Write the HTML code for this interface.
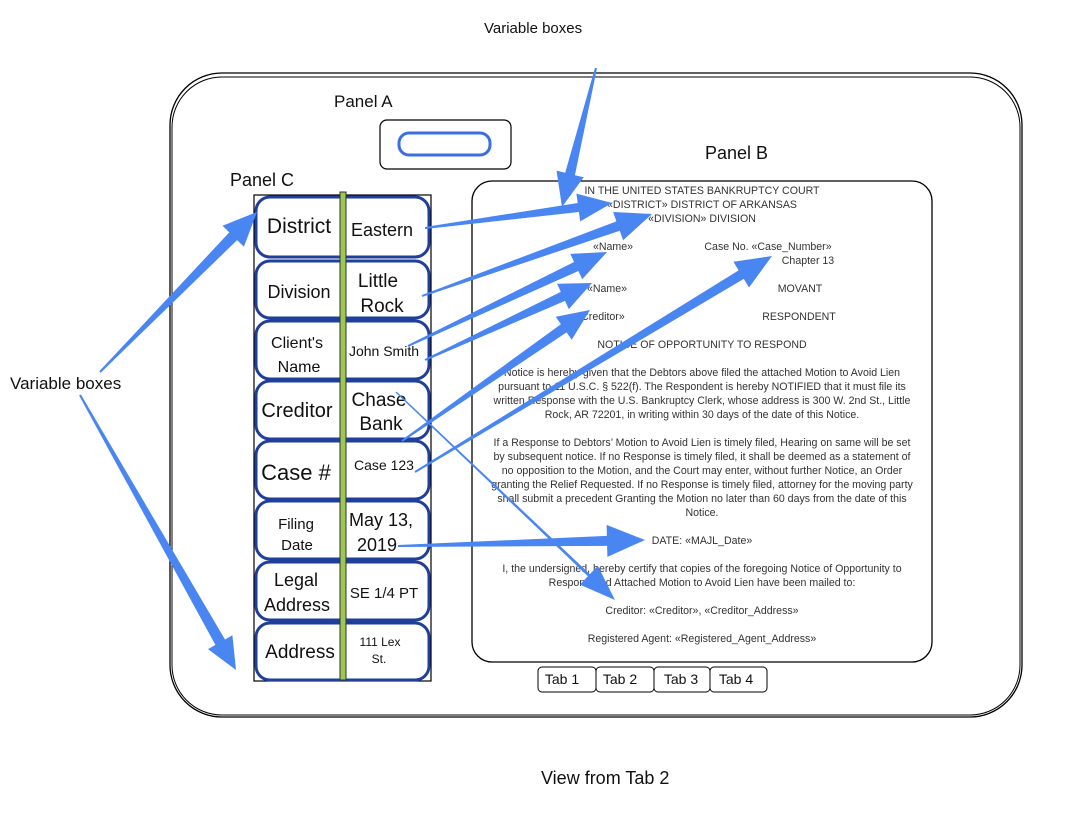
<!DOCTYPE html>
<html><head><meta charset="utf-8"><style>
html,body{margin:0;padding:0;background:#fff;width:1070px;height:832px;overflow:hidden}
svg{display:block;font-family:"Liberation Sans",sans-serif}
.d{font-size:10.6px;fill:#333;text-anchor:middle}
</style></head><body>
<svg id="s" width="1070" height="832" viewBox="0 0 1070 832" xmlns="http://www.w3.org/2000/svg">
<rect x="170" y="73" width="852" height="644" rx="52" fill="none" stroke="#000" stroke-width="1.3"/>
<rect x="172" y="77" width="848" height="638" rx="50" fill="none" stroke="#000" stroke-width="1"/>
<text x="484" y="33" font-size="15" fill="#111">Variable boxes</text>
<text x="334" y="107" font-size="17" fill="#111">Panel A</text>
<rect x="380" y="120" width="131" height="49" rx="7" fill="#fff" stroke="#000" stroke-width="1.2"/>
<rect x="399" y="133" width="91" height="22" rx="10" fill="#fff" stroke="#3b6fe0" stroke-width="3"/>
<text x="705" y="159" font-size="18" fill="#111">Panel B</text>
<text x="230" y="186" font-size="18" fill="#111">Panel C</text>
<text x="10" y="389" font-size="17" fill="#111">Variable boxes</text>
<text x="541" y="784" font-size="18" fill="#111">View from Tab 2</text>
<rect x="472" y="181" width="460" height="481" rx="20" fill="#fff" stroke="#000" stroke-width="1.3"/>
<g class="d">
<text x="702" y="194">IN THE UNITED STATES BANKRUPTCY COURT</text>
<text x="702" y="208">«DISTRICT» DISTRICT OF ARKANSAS</text>
<text x="702" y="222">«DIVISION» DIVISION</text>
<text x="613" y="250">«Name»</text>
<text x="768" y="250">Case No. «Case_Number»</text>
<text x="808" y="264">Chapter 13</text>
<text x="607" y="292">«Name»</text>
<text x="800" y="292">MOVANT</text>
<text x="600" y="320">«Creditor»</text>
<text x="799" y="320">RESPONDENT</text>
<text x="702" y="348">NOTICE OF OPPORTUNITY TO RESPOND</text>
<text x="702" y="376">Notice is hereby given that the Debtors above filed the attached Motion to Avoid Lien</text>
<text x="702" y="390">pursuant to 11 U.S.C. § 522(f). The Respondent is hereby NOTIFIED that it must file its</text>
<text x="702" y="404">written Response with the U.S. Bankruptcy Clerk, whose address is 300 W. 2nd St., Little</text>
<text x="702" y="418">Rock, AR 72201, in writing within 30 days of the date of this Notice.</text>
<text x="702" y="446">If a Response to Debtors’ Motion to Avoid Lien is timely filed, Hearing on same will be set</text>
<text x="702" y="460">by subsequent notice.  If no Response is timely filed, it shall be deemed as a statement of</text>
<text x="702" y="474">no opposition to the Motion, and the Court may enter, without further Notice, an Order</text>
<text x="702" y="488">granting the Relief Requested.  If no Response is timely filed, attorney for the moving party</text>
<text x="702" y="502">shall submit a precedent Granting the Motion no later than 60 days from the date of this</text>
<text x="702" y="516">Notice.</text>
<text x="702" y="544">DATE: «MAJL_Date»</text>
<text x="702" y="572">I, the undersigned, hereby certify that copies of the foregoing Notice of Opportunity to</text>
<text x="702" y="586">Respond and Attached Motion to Avoid Lien have been mailed to:</text>
<text x="702" y="614">Creditor:    «Creditor», «Creditor_Address»</text>
<text x="702" y="642">Registered Agent:    «Registered_Agent_Address»</text>
</g>
<g font-size="14" fill="#111" text-anchor="middle">
<rect x="538" y="667" width="58" height="25" rx="4" fill="#fff" stroke="#000"/><text x="562" y="684">Tab 1</text>
<rect x="596" y="667" width="58" height="25" rx="4" fill="#fff" stroke="#000"/><text x="620" y="684">Tab 2</text>
<rect x="654" y="667" width="56" height="25" rx="4" fill="#fff" stroke="#000"/><text x="681" y="684">Tab 3</text>
<rect x="710" y="667" width="57" height="25" rx="4" fill="#fff" stroke="#000"/><text x="736" y="684">Tab 4</text>
</g>
<rect x="254" y="195" width="177" height="486" fill="#fff" stroke="#000" stroke-width="1.2"/>
<g fill="#fff" stroke="#1f3f9a" stroke-width="3">
<rect x="256" y="197" width="173" height="60" rx="14"/>
<rect x="256" y="261" width="173" height="57" rx="14"/>
<rect x="256" y="321" width="173" height="58" rx="14"/>
<rect x="256" y="381" width="173" height="58" rx="14"/>
<rect x="256" y="441" width="173" height="58" rx="14"/>
<rect x="256" y="501" width="173" height="58" rx="14"/>
<rect x="256" y="562" width="173" height="58" rx="14"/>
<rect x="256" y="623" width="173" height="57" rx="14"/>
</g>
<rect x="340" y="192" width="6" height="488" fill="#9cc84f" stroke="#333" stroke-width="1"/>
<g fill="#111" text-anchor="middle">
<text x="299" y="233" font-size="21">District</text>
<text x="382" y="236" font-size="18">Eastern</text>
<text x="299" y="298" font-size="18">Division</text>
<text x="378" y="287" font-size="19">Little</text>
<text x="382" y="312" font-size="19">Rock</text>
<text x="297" y="348" font-size="16">Client's</text>
<text x="299" y="372" font-size="16">Name</text>
<text x="384" y="356" font-size="14">John Smith</text>
<text x="297" y="417" font-size="20">Creditor</text>
<text x="379" y="406" font-size="19">Chase</text>
<text x="381" y="430" font-size="19">Bank</text>
<text x="296" y="480" font-size="22">Case #</text>
<text x="384" y="470" font-size="14">Case 123</text>
<text x="296" y="529" font-size="15">Filing</text>
<text x="297" y="550" font-size="15">Date</text>
<text x="381" y="526" font-size="18">May 13,</text>
<text x="377" y="551" font-size="18">2019</text>
<text x="296" y="586" font-size="18">Legal</text>
<text x="297" y="611" font-size="18">Address</text>
<text x="384" y="598" font-size="15">SE 1/4 PT</text>
<text x="300" y="658" font-size="19">Address</text>
<text x="380" y="646" font-size="12">111 Lex</text>
<text x="379" y="663" font-size="12">St.</text>
</g>
<g id="arr" fill="#4a86f2"></g>
</svg>
<script>
var A=[[425,228,612,203,2,9,34,28],[422,296,652,214,2,10,36,30],[408,346,607,252,2,10,34,28],[425,360,592,283,2,10,32,28],[402,441,590,310,2,10,32,28],[415,472,772,256,2,10,36,30],[398,546,645,540,2,10,38,32],[396,392,615,600,1.5,3,36,26],[596,68,562,207,2,10,34,28],[100,372,257,212,2,11,34,30],[80,395,236,670,2,11,32,28]];
var g=document.getElementById('arr'),s='';
A.forEach(function(a){var x0=a[0],y0=a[1],x1=a[2],y1=a[3],w0=a[4]/2,w1=a[5]/2,L=a[6],H=a[7]/2;
var dx=x1-x0,dy=y1-y0,d=Math.hypot(dx,dy),ux=dx/d,uy=dy/d,nx=-uy,ny=ux;
var bx=x1-ux*L,by=y1-uy*L,p=[[x0+nx*w0,y0+ny*w0],[bx+nx*w1,by+ny*w1],[bx+nx*H,by+ny*H],[x1,y1],[bx-nx*H,by-ny*H],[bx-nx*w1,by-ny*w1],[x0-nx*w0,y0-ny*w0]];
s+='<polygon points="'+p.map(function(q){return q[0].toFixed(1)+','+q[1].toFixed(1)}).join(' ')+'"/>';});
g.innerHTML=s;
</script>
</body></html>
